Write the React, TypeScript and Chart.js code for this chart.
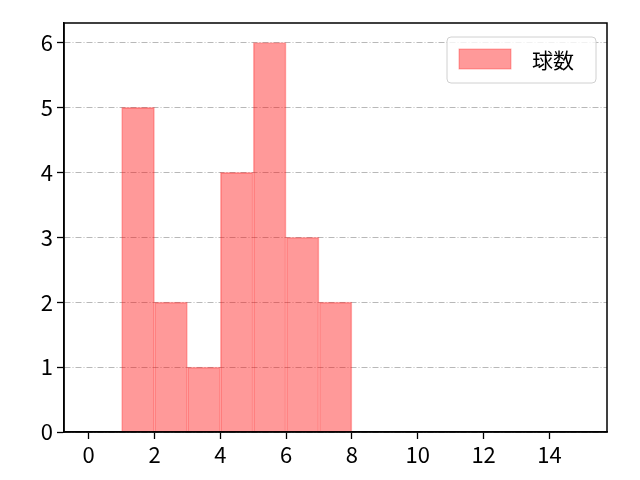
import { useEffect, useRef } from 'react';
import { Chart, registerables } from 'chart.js';

Chart.register(...registerables);

// histogram bins (left edges) and counts
const binStarts = [1, 2, 3, 4, 5, 6, 7];
const counts = [5, 2, 1, 4, 6, 3, 2];
const seriesLabel = '球数';
const xTickStep = 2;
const yTickStep = 1;

const FONT = '"Noto Sans CJK JP", "DejaVu Sans", sans-serif';

const framePlugin = {
  id: 'frameAndLegend',
  afterDraw(chart: Chart) {
    const { ctx, chartArea } = chart;
    ctx.save();
    // full black frame
    ctx.strokeStyle = '#000';
    ctx.lineWidth = 1.5;
    ctx.strokeRect(chartArea.left, chartArea.top, chartArea.right - chartArea.left, chartArea.bottom - chartArea.top);

    // legend box in upper right
    const bx = 447, by = 37, bw = 149, bh = 46, r = 4;
    ctx.beginPath();
    ctx.moveTo(bx + r, by);
    ctx.arcTo(bx + bw, by, bx + bw, by + bh, r);
    ctx.arcTo(bx + bw, by + bh, bx, by + bh, r);
    ctx.arcTo(bx, by + bh, bx, by, r);
    ctx.arcTo(bx, by, bx + bw, by, r);
    ctx.closePath();
    ctx.fillStyle = 'rgba(255,255,255,0.8)';
    ctx.fill();
    ctx.strokeStyle = '#d0d0d0';
    ctx.lineWidth = 1;
    ctx.stroke();

    ctx.fillStyle = 'rgba(255,0,0,0.4)';
    ctx.fillRect(459, 49, 52, 20);
    ctx.strokeStyle = 'rgba(255,0,0,0.3)';
    ctx.strokeRect(459, 49, 52, 20);

    ctx.fillStyle = '#000';
    ctx.font = `21px ${FONT}`;
    ctx.textBaseline = 'middle';
    ctx.fillText(seriesLabel, 532, 60);
    ctx.restore();
  },
};

export default function App() {
  const canvasRef = useRef<HTMLCanvasElement>(null);
  const chartRef = useRef<Chart | null>(null);

  useEffect(() => {
    document.body.style.margin = '0';
    if (!canvasRef.current) return;
    if (chartRef.current) chartRef.current.destroy();

    chartRef.current = new Chart(canvasRef.current, {
      type: 'bar',
      data: {
        datasets: [
          {
            label: seriesLabel,
            data: binStarts.map((b, i) => ({ x: b + 0.5, y: counts[i] })),
            backgroundColor: 'rgba(255,0,0,0.4)',
            borderColor: 'rgba(255,0,0,0.3)',
            borderWidth: 1,
            barPercentage: 1,
            categoryPercentage: 1,
          },
        ],
      },
      options: {
        responsive: false,
        animation: false,
        layout: { padding: { left: 0, right: 33, top: 23, bottom: 0 } },
        plugins: {
          legend: { display: false },
          tooltip: { enabled: false },
        },
        scales: {
          x: {
            type: 'linear',
            min: -0.75,
            max: 15.75,
            offset: false,
            grid: {
              display: true,
              offset: false,
              drawOnChartArea: false,
              tickLength: 7,
              tickColor: '#000',
              tickWidth: 1.3,
            },
            border: { display: true, color: '#000', width: 1.5 },
            ticks: {
              stepSize: xTickStep,
              includeBounds: false,
              color: '#000',
              padding: 2,
              maxRotation: 0,
              font: { family: FONT, size: 22 },
            },
            afterFit: (scale: any) => {
              scale.height = 48;
            },
          },
          y: {
            type: 'linear',
            min: 0,
            max: 6.3,
            grid: {
              display: true,
              color: '#b0b0b0',
              lineWidth: 0.9,
              tickBorderDash: [],
              tickLength: 7,
              tickColor: '#000',
              tickWidth: 1.3,
            },
            border: { display: true, color: '#000', width: 1.5, dash: [6, 2, 1, 2] },
            ticks: {
              stepSize: yTickStep,
              includeBounds: false,
              color: '#000',
              padding: 4,
              font: { family: FONT, size: 22 },
            },
            afterFit: (scale: any) => {
              scale.width = 64;
            },
          },
        },
      },
      plugins: [framePlugin],
    });

    return () => {
      if (chartRef.current) {
        chartRef.current.destroy();
        chartRef.current = null;
      }
    };
  }, []);

  return (
    <div style={{ width: 640, height: 480, background: '#fff' }}>
      <canvas ref={canvasRef} width={640} height={480} style={{ display: 'block' }} />
    </div>
  );
}
